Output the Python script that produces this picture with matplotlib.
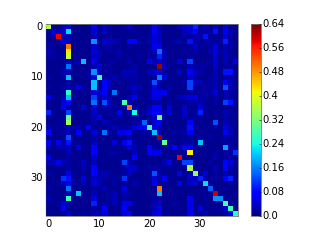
import numpy as np
import matplotlib
matplotlib.use('Agg')
import matplotlib.pyplot as plt

# valores em centesimos
matriz = [
    [36,1,1,3,5,1,1,0,1,6, 1,3,2,1,1,2,4,1,1,1, 1,6,3,1,1,1,3,4,5,10, 2,3,2,4,1,5,2,1],
    [2,5,3,5,22,1,1,1,1,5, 1,4,1,1,1,1,1,2,1,1, 1,7,3,1,1,1,1,3,4,7, 2,2,2,9,1,6,3,1],
    [1,2,58,3,3,1,1,1,1,3, 1,1,2,1,1,1,1,1,1,1, 2,5,3,1,1,1,1,2,2,3, 2,9,2,1,1,5,2,1],
    [1,1,2,6,3,1,1,1,1,17, 1,5,4,3,2,1,7,7,2,1, 3,5,4,1,1,2,3,1,9,2, 1,2,2,2,2,10,2,1],
    [2,1,1,1,50,1,1,1,1,4, 1,2,2,1,1,1,2,1,1,1, 1,6,6,1,1,1,1,1,2,4, 2,1,2,5,1,3,2,1],
    [3,2,1,1,42,1,1,1,1,5, 3,1,2,2,3,1,1,1,1,1, 2,3,15,3,1,1,1,2,1,2, 1,1,3,5,2,3,1,1],
    [2,2,1,2,38,1,1,1,1,4, 3,1,1,1,2,1,1,1,2,1, 2,2,10,3,1,1,1,1,2,1, 1,1,1,5,1,3,2,1],
    [1,1,1,1,4,1,3,20,1,6, 1,1,2,2,1,1,3,1,1,1, 6,3,4,2,1,1,5,2,12,1, 1,1,2,4,1,3,1,5],
    [1,1,1,1,15,1,1,1,1,3, 5,1,2,1,1,1,1,2,1,1, 1,1,62,3,1,1,1,1,3,2, 2,2,1,4,1,2,2,1],
    [1,1,1,3,3,1,1,1,2,17, 3,1,2,1,1,3,3,3,1,1, 3,4,5,2,1,1,4,1,7,3, 2,1,1,3,1,9,9,1],
    [2,1,1,2,20,1,1,1,2,5, 28,2,2,3,1,2,2,2,1,1, 1,1,16,5,1,1,1,1,4,2, 1,1,2,3,1,2,2,1],
    [1,1,1,1,2,1,1,1,1,20, 1,7,4,1,2,1,2,2,1,1, 2,13,3,1,1,1,1,2,12,3, 3,1,2,3,1,8,3,1],
    [2,1,1,2,3,1,6,2,1,20, 1,7,3,1,1,1,2,4,3,1, 1,5,2,1,3,1,1,1,12,2, 1,2,2,3,1,13,3,1],
    [1,1,1,1,26,1,1,1,1,5, 4,7,1,15,1,1,1,3,1,1, 2,6,6,6,1,1,1,1,2,1, 2,2,2,5,1,3,2,1],
    [6,2,1,3,20,1,1,1,1,12, 2,4,2,1,1,2,3,6,1,1, 2,5,5,1,1,1,3,4,5,5, 2,2,1,2,1,3,2,1],
    [2,1,1,5,7,1,1,1,1,15, 1,13,4,1,1,28,2,1,1,1, 1,2,2,1,2,1,1,1,2,2, 3,1,1,2,1,12,9,1],
    [1,1,1,6,2,1,1,5,1,4, 1,3,2,2,1,2,50,3,1,1, 3,7,7,1,5,1,1,4,1,1, 5,2,1,1,1,1,1,1],
    [10,1,1,1,12,1,1,1,1,4, 2,1,2,1,7,1,3,24,1,2, 5,7,6,2,5,1,1,4,1,2, 10,1,1,2,1,3,2,1],
    [2,1,1,1,30,1,1,1,1,3, 6,1,1,2,2,1,1,2,2,1, 1,3,30,2,1,1,1,3,1,2, 1,1,1,1,1,2,1,1],
    [1,1,1,2,35,1,1,1,1,2, 1,3,2,1,1,1,1,2,2,14, 1,5,8,1,1,1,1,1,7,1, 1,1,1,13,1,3,2,1],
    [3,1,2,1,3,2,3,1,7,1, 1,1,2,3,2,2,2,5,8,6, 27,5,3,1,1,1,1,2,9,2, 1,1,1,2,1,5,3,1],
    [7,1,1,2,3,1,7,1,1,5, 1,15,2,1,6,6,7,1,1,2, 2,20,3,1,1,2,1,2,7,1, 1,1,1,1,1,7,3,1],
    [1,1,1,1,13,1,1,1,1,2, 1,1,1,1,1,1,2,1,1,1, 1,1,62,1,1,1,1,1,1,1, 2,1,2,1,1,2,2,1],
    [6,1,6,2,9,1,1,1,1,3, 1,1,1,5,1,6,9,2,1,1, 1,1,2,30,2,1,1,2,2,1, 20,1,1,1,1,2,2,1],
    [3,1,2,3,3,1,5,1,1,8, 1,1,1,1,1,2,5,3,1,1, 8,2,1,1,3,7,2,6,8,1, 1,1,1,1,1,18,2,1],
    [1,1,1,1,3,1,1,1,1,8, 1,1,2,2,1,1,1,3,1,1, 7,6,6,1,1,1,1,1,42,2, 1,1,1,2,1,2,2,11],
    [6,1,1,1,2,1,1,1,1,4, 1,1,1,1,1,1,1,7,1,1, 1,1,1,1,1,1,58,1,1,1, 1,1,1,3,1,2,2,1],
    [3,3,6,3,2,1,1,4,1,3, 1,1,1,1,1,12,3,1,1,1, 1,1,1,3,6,1,1,12,12,1, 1,1,2,1,1,8,5,1],
    [1,1,1,1,2,1,1,3,1,8, 1,1,1,1,1,2,4,4,1,1, 2,2,2,1,1,1,1,1,36,2, 1,1,1,3,1,7,2,1],
    [2,1,1,1,6,1,1,1,1,7, 2,3,2,1,1,2,4,1,1,1, 1,13,2,1,1,1,6,1,3,34, 1,5,1,2,1,2,2,1],
    [1,1,1,11,9,1,1,5,1,4, 3,2,1,2,1,11,1,1,1,1, 1,5,2,7,1,1,1,1,4,4, 10,2,1,2,1,8,10,1],
    [1,1,2,3,6,2,1,3,1,5, 3,1,1,2,1,1,1,3,1,1, 1,6,1,1,1,1,6,1,4,4, 1,22,2,1,1,1,1,1],
    [2,1,1,1,15,1,1,1,1,2, 1,3,1,1,1,5,1,1,1,1, 1,1,50,1,1,1,1,1,1,1, 1,1,14,1,1,1,1,1],
    [1,1,1,1,3,1,20,1,1,3, 1,1,2,3,1,3,2,1,1,1, 1,1,20,1,1,1,1,1,1,1, 1,1,1,60,1,1,1,1],
    [3,1,1,1,27,1,1,1,1,5, 1,1,2,3,1,2,1,1,1,1, 1,2,2,1,1,1,1,1,6,1, 1,2,1,17,17,1,1,1],
    [1,1,2,5,3,1,1,1,1,10, 1,2,1,3,1,6,6,2,1,1, 1,3,3,1,1,2,1,1,6,1, 1,1,1,1,1,28,1,1],
    [1,1,1,7,1,1,1,1,1,2, 1,8,1,1,1,8,1,1,1,1, 1,3,6,1,1,1,1,1,6,1, 5,1,1,1,2,4,27,1],
    [1,1,1,1,4,1,1,2,1,3, 3,5,1,1,1,5,6,1,1,1, 1,5,6,1,1,1,1,1,6,1, 1,3,1,1,1,2,5,26],
]
ticks_eixo = [0, 10, 20, 30]
ticks_barra = [0.0, 0.08, 0.16, 0.24, 0.32, 0.4, 0.48, 0.56, 0.64]
rotulos_barra = ['0.0', '0.08', '0.16', '0.24', '0.32', '0.4', '0.48', '0.56', '0.64']

plt.style.use('classic')
fig = plt.figure(figsize=(8, 6), dpi=40, facecolor='white')
ax = fig.add_axes([45.8 / 320, 24 / 240, 192 / 320, 192 / 240])
cax = fig.add_axes([250.5 / 320, 24 / 240, 10.3 / 320, 192 / 240])

im = ax.imshow(np.array(matriz) / 100, cmap='jet', vmin=0, vmax=0.64, interpolation='nearest', aspect='auto')
ax.set_xticks(ticks_eixo)
ax.set_yticks(ticks_eixo)
ax.tick_params(labelsize=18, width=0.3, length=2, pad=5)

barra = fig.colorbar(im, cax=cax)
barra.set_ticks(ticks_barra)
barra.set_ticklabels(rotulos_barra)
cax.tick_params(labelsize=18, width=1, length=3, pad=3)

# contorno cinza como na figura original
for eixo in [ax, cax]:
    for lado in eixo.spines.values():
        lado.set_edgecolor('#777777')
        lado.set_linewidth(1.5)
ax.spines['left'].set_linewidth(0.5)
barra.outline.set_edgecolor('#777777')
barra.outline.set_linewidth(1.5)

fig.savefig('out.png', dpi=40, facecolor='white')
